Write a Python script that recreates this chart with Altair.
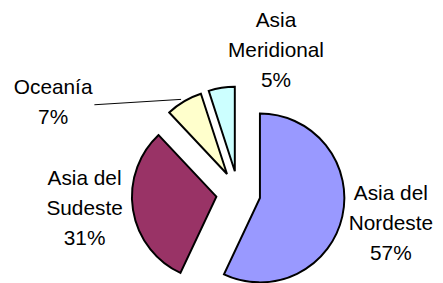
import altair as alt
import pandas as pd

categories = ["Asia del Nordeste", "Asia del Sudeste", "Oceanía", "Asia Meridional"]
label_lines = ["Asia del\nNordeste", "Asia del\nSudeste", "Oceanía", "Asia\nMeridional"]
values = [57, 31, 7, 5]
colors = ["#9999FF", "#993366", "#FFFFCC", "#CCFFFF"]

total = sum(values)
labels = [f"{l}\n{round(100 * v / total)}%" for l, v in zip(label_lines, values)]

df = pd.DataFrame({"cat": categories, "txt": labels, "value": values,
                   "order": list(range(len(values)))})

# layout (pixels in the plot area)
SX = 3
CX, CY, D, R = 231.6 + SX, 186, 22.6, 86
label_pos = {"Asia del Nordeste": (390, 187), "Asia del Sudeste": (75 + SX, 172),
             "Oceanía": (43 + SX, 79), "Asia Meridional": (270 + SX, 11)}
FS = 21.2
LH = 30.5

base = (
    alt.Chart(df)
    .transform_joinaggregate(total="sum(value)")
    .transform_window(cum="sum(value)", sort=[alt.SortField("order")], frame=[None, 0])
    .transform_calculate(
        t0="2*PI*(datum.cum-datum.value)/datum.total",
        t1="2*PI*datum.cum/datum.total",
    )
    .transform_calculate(mid="(datum.t0+datum.t1)/2")
    .transform_calculate(
        px=f"{CX}+{D}*sin(datum.mid)",
        py=f"{CY}-{D}*cos(datum.mid)",
    )
)

arcs = base.mark_arc(radius=R, stroke="black", strokeWidth=2, strokeJoin="miter").encode(
    x=alt.X("px:Q", scale=None, axis=None),
    y=alt.Y("py:Q", scale=None, axis=None),
    theta=alt.Theta("t0:Q", scale=None),
    theta2="t1:Q",
    color=alt.Color("cat:N", scale=alt.Scale(domain=categories, range=colors), legend=None),
)

leader = (
    base.transform_filter(alt.datum.cat == "Oceanía")
    .transform_calculate(
        lx=f"{85 + SX}", ly="96",
        ex=f"datum.px+{R}*sin(datum.mid)-3",
        ey=f"datum.py-{R}*cos(datum.mid)-2",
    )
    .mark_rule(color="black", strokeWidth=1)
    .encode(
        x=alt.X("lx:Q", scale=None, axis=None),
        y=alt.Y("ly:Q", scale=None, axis=None),
        x2="ex:Q",
        y2="ey:Q",
    )
)

texts = []
for c in categories:
    tx, ty = label_pos[c]
    texts.append(
        base.transform_filter(alt.datum.cat == c)
        .mark_text(font="Liberation Sans", fontSize=FS, lineBreak="\n", lineHeight=LH,
                   align="center", baseline="middle", color="black")
        .encode(text="txt:N", x=alt.value(tx), y=alt.value(ty))
    )

chart = alt.layer(arcs, leader, *texts).properties(
    width=435, height=275, padding=0,
    autosize=alt.AutoSizeParams(type="none"),
).configure_view(stroke=None)

chart.save("out.html", embed_options={"renderer": "svg", "actions": False})
